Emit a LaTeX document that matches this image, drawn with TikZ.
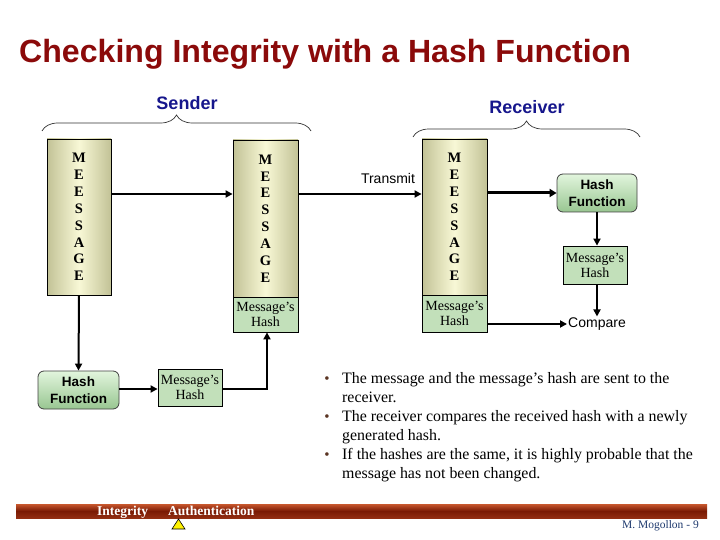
\documentclass[tikz,border=0pt]{standalone}
\usepackage{fontspec}
\setmainfont{Liberation Serif}
\setsansfont{Liberation Sans}
\usetikzlibrary{arrows.meta,decorations.pathreplacing,calc}
\definecolor{titlered}{HTML}{8B0A0A}
\definecolor{navy}{HTML}{16168C}
\definecolor{msgedge}{HTML}{C2C296}
\definecolor{msgmid}{HTML}{F8F8D6}
\definecolor{hashfill}{HTML}{C2E0BA}
\definecolor{hftop}{HTML}{E2F5DD}
\definecolor{hfbot}{HTML}{98C691}
\definecolor{bulbrown}{HTML}{5A3422}
\definecolor{bartop}{HTML}{C8582E}
\definecolor{barmid}{HTML}{7A1A04}
\definecolor{barbot}{HTML}{922E12}
\definecolor{authorblue}{HTML}{1F3A6E}
\begin{document}
\begin{tikzpicture}[x=1pt,y=-1pt,
  msgbox/.style={draw=black, line width=0.8pt, left color=msgedge, right color=msgedge, middle color=msgmid,
    font=\bfseries\fontsize{14.5}{16.85}\selectfont, align=center, inner sep=0pt},
  hashbox/.style={draw=black, line width=0.8pt, fill=hashfill, font=\fontsize{14}{15}\selectfont,
    align=center, inner sep=0pt},
  hfbox/.style={draw=black!75, line width=0.8pt, rounded corners=6pt, top color=hftop, bottom color=hfbot,
    font=\sffamily\bfseries\fontsize{13.5}{17}\selectfont, align=center, inner sep=0pt,
    minimum width=80pt, minimum height=38pt},
  arr/.style={line width=2pt, -{Triangle[length=7pt,width=7pt]}},
  bracestyle/.style={draw=black!80, line width=0.7pt, decorate, decoration={brace, amplitude=16pt}},
  bultext/.style={anchor=base west, inner sep=0pt, font=\fontsize{15.9}{19}\selectfont},
  bulmark/.style={anchor=base, inner sep=0pt, text=bulbrown, font=\fontsize{15}{19}\selectfont},
  head/.style={text=navy, font=\sffamily\bfseries\fontsize{18}{20}\selectfont, inner sep=0pt}
]
\useasboundingbox (0,0) rectangle (720,540);

% title
\node[anchor=base west, inner sep=0pt, text=titlered, font=\sffamily\bfseries\fontsize{32.1}{36}\selectfont]
  (title) at (19,63) {Checking Integrity with a Hash Function};

% headings and braces
\node[head] (sender) at (187,103) {Sender};
\node[head] (receiver) at (527,107) {Receiver};
\draw[bracestyle] (42,131) -- (311,131);
\draw[bracestyle] (413,137) -- (640,137);

% sender side
\node[msgbox, minimum width=64pt, minimum height=156pt] (m1) at (79,217)
  {M\\E\\E\\S\\S\\A\\G\\E};
\node[msgbox, minimum width=65pt, minimum height=157pt] (m2) at (265.5,218.5)
  {M\\E\\E\\S\\S\\A\\G\\E};
\node[hashbox, minimum width=65pt, minimum height=35pt] (h2) at (265.5,314.5)
  {Message’s\\Hash};
\node[hfbox, minimum width=81pt] (hf1) at (78.5,390) {Hash\\Function};
\node[hashbox, minimum width=64pt, minimum height=37pt] (hh1) at (190,387.5)
  {Message’s\\Hash};

% receiver side
\node[msgbox, minimum width=65pt, minimum height=156pt] (mr) at (454.5,217)
  {M\\E\\E\\S\\S\\A\\G\\E};
\node[hashbox, minimum width=65pt, minimum height=37pt] (hr) at (454.5,313.5)
  {Message’s\\Hash};
\node[hfbox] (hf2) at (597,193) {Hash\\Function};
\node[hashbox, minimum width=64pt, minimum height=38pt] (hh2) at (595,265)
  {Message’s\\Hash};
\node[inner sep=1pt, font=\sffamily\fontsize{14}{16}\selectfont] (cmp) at (597,324) {Compare};
\node[inner sep=0pt, font=\sffamily\fontsize{14}{16}\selectfont] (tx) at (388,178) {Transmit};

% connectors
\draw[arr] ([yshift=23pt]m1.east) -- ([yshift=23pt]m1.east -| m2.west);
\draw[arr] ([yshift=24.5pt]m2.east) -- ([yshift=24.5pt]m2.east -| mr.west);
\draw[line width=3pt, -{Triangle[length=7pt,width=8pt]}] (mr.east |- hf2.west) -- (hf2.west);
\draw[arr] (hf2.south) -- (hh2.north -| hf2.south);
\draw[arr] (hh2.south -| hf2.south) -- (cmp.north);
\draw[arr] (hr.east |- cmp.west) -- (cmp.west);
\draw[arr] (m1.south) -- (hf1.north);
\draw[arr] ([yshift=1pt]hf1.east) -- ([yshift=1pt]hf1.east -| hh1.west);
\draw[arr] ([yshift=-1.5pt]hh1.east) -| ([xshift=1.5pt]h2.south);

% bullets
\node[bulmark] (d1) at (327,383) {•};
\node[bultext] (t1a) at (342,383) {The message and the message’s hash are sent to the};
\node[bultext] (t1b) at (342,402) {receiver.};
\node[bulmark] (d2) at (327,421) {•};
\node[bultext] (t2a) at (342,421) {The receiver compares the received hash with a newly};
\node[bultext] (t2b) at (342,440) {generated hash.};
\node[bulmark] (d3) at (327,459) {•};
\node[bultext] (t3a) at (342,459) {If the hashes are the same, it is highly probable that the};
\node[bultext] (t3b) at (342,478) {message has not been changed.};

% footer
\shade[top color=bartop, bottom color=barbot, middle color=barmid] (16,504) rectangle (707,518);
\node[anchor=base west, inner sep=0pt, text=white, font=\bfseries\fontsize{13.5}{15}\selectfont]
  (f1) at (97,515) {Integrity};
\node[anchor=base west, inner sep=0pt, text=white, font=\bfseries\fontsize{13.5}{15}\selectfont]
  (f2) at (168,515) {Authentication};
\draw[fill=yellow, line width=0.6pt] (172,529) -- (185,529) -- (178.5,519) -- cycle;
\node[anchor=base east, inner sep=0pt, text=authorblue, font=\fontsize{11.5}{13}\selectfont]
  (auth) at (699,528) {M. Mogollon - 9};
\end{tikzpicture}
\end{document}
